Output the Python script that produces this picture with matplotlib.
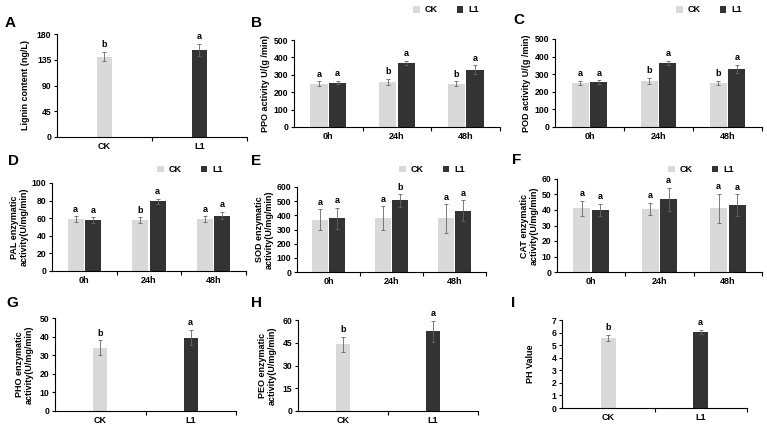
import matplotlib
matplotlib.use("Agg")
import matplotlib.pyplot as plt
import numpy as np

plt.rcParams['font.family'] = ['Liberation Sans', 'DejaVu Sans']
plt.rcParams['font.weight'] = 'bold'

W, H = 767, 426
CK_COLOR = '#d9d9d9'
L1_COLOR = '#333333'

# ---- data ----
two_cats = ['CK', 'L1']
time_cats = ['0h', '24h', '48h']

lignin = [140, 152]
lignin_err = [8, 10]
lignin_sig = ['b', 'a']

ppo_ck = [250, 260, 250]
ppo_l1 = [255, 368, 330]
ppo_ck_err = [12, 18, 12]
ppo_l1_err = [10, 12, 25]
ppo_ck_sig = ['a', 'b', 'b']
ppo_l1_sig = ['a', 'a', 'a']

pod_ck = [250, 260, 250]
pod_l1 = [255, 365, 330]
pod_ck_err = [12, 18, 12]
pod_l1_err = [10, 12, 25]
pod_ck_sig = ['a', 'b', 'b']
pod_l1_sig = ['a', 'a', 'a']

pal_ck = [59, 58, 59]
pal_l1 = [58, 79, 63]
pal_ck_err = [3, 3, 3]
pal_l1_err = [3, 3, 4]
pal_ck_sig = ['a', 'b', 'a']
pal_l1_sig = ['a', 'a', 'a']

sod_ck = [368, 380, 378]
sod_l1 = [378, 505, 432]
sod_ck_err = [75, 85, 100]
sod_l1_err = [75, 45, 75]
sod_ck_sig = ['a', 'a', 'a']
sod_l1_sig = ['a', 'b', 'a']

cat_ck = [41, 40.5, 41]
cat_l1 = [40, 47, 43]
cat_ck_err = [5, 4, 9.5]
cat_l1_err = [4, 7.5, 7]
cat_ck_sig = ['a', 'a', 'a']
cat_l1_sig = ['a', 'a', 'a']

pho = [34, 39.5]
pho_err = [4, 4]
pho_sig = ['b', 'a']

peo = [44, 52.5]
peo_err = [5, 7]
peo_sig = ['b', 'a']

ph = [5.55, 6.05]
ph_err = [0.25, 0.15]
ph_sig = ['b', 'a']


def ax_px(fig, left, top, right, bottom):
    return fig.add_axes([left / W, 1 - bottom / H, (right - left) / W, (bottom - top) / H])


def style(ax, n, ymax, step, ylabel, lpad):
    ax.set_xlim(-0.5, n - 0.5)
    ax.set_ylim(0, ymax)
    ax.set_yticks(np.arange(0, ymax + step / 2, step))
    ax.spines['top'].set_visible(False)
    ax.spines['right'].set_visible(False)
    ax.spines['left'].set_linewidth(0.8)
    ax.spines['bottom'].set_linewidth(0.8)
    ax.set_xticks(np.arange(n))
    ax.set_xticks(np.arange(0.5, n, 1.0), minor=True)
    ax.tick_params(axis='x', which='major', length=0, pad=3.5, labelsize=6.5)
    ax.tick_params(axis='x', which='minor', length=3, width=0.8, direction='out')
    ax.tick_params(axis='y', length=2.5, width=0.8, pad=1.5, labelsize=6.2)
    ax.set_ylabel(ylabel, fontsize=6.5, fontweight='bold', labelpad=lpad, linespacing=1.1)


def sig_text(ax, x, top, s, ymax):
    ax.text(x, top + ymax * 0.03, s, ha='center', va='bottom', fontsize=6.5, fontweight='bold')


def two_bar(fig, box, vals, errs, sigs, ymax, step, ylabel, letter, lpos, lpad=3):
    ax = ax_px(fig, *box)
    x = np.arange(len(two_cats))
    ax.bar(x, vals, width=0.16, color=[CK_COLOR, L1_COLOR], yerr=errs,
           error_kw=dict(ecolor='#666666', elinewidth=0.6, capsize=1.5, capthick=0.6))
    style(ax, len(two_cats), ymax, step, ylabel, lpad)
    ax.set_xticklabels(two_cats)
    for xi, v, e, s in zip(x, vals, errs, sigs):
        sig_text(ax, xi, v + e, s, ymax)
    fig.text(lpos[0] / W, 1 - lpos[1] / H, letter, fontsize=11, fontweight='bold', va='center')
    return ax


def group_bar(fig, box, ck, l1, ck_err, l1_err, ck_sig, l1_sig, ymax, step, ylabel,
              letter, lpos, legpos, lpad=3):
    ax = ax_px(fig, *box)
    x = np.arange(len(time_cats))
    w = 0.25
    off = 0.135
    ek = dict(ecolor='#666666', elinewidth=0.6, capsize=1.5, capthick=0.6)
    ax.bar(x - off, ck, width=w, color=CK_COLOR, yerr=ck_err, error_kw=ek, label='CK')
    ax.bar(x + off, l1, width=w, color=L1_COLOR, yerr=l1_err, error_kw=ek, label='L1')
    style(ax, len(time_cats), ymax, step, ylabel, lpad)
    ax.set_xticklabels(time_cats)
    for xi, v, e, s in zip(x - off, ck, ck_err, ck_sig):
        sig_text(ax, xi, v + e, s, ymax)
    for xi, v, e, s in zip(x + off, l1, l1_err, l1_sig):
        sig_text(ax, xi, v + e, s, ymax)
    ax.legend(loc='center', bbox_to_anchor=(legpos[0] / W, 1 - legpos[1] / H),
              bbox_transform=fig.transFigure, ncol=2, frameon=False, fontsize=6.5,
              handlelength=0.7, handleheight=0.7, handletextpad=0.5, columnspacing=2.2)
    fig.text(lpos[0] / W, 1 - lpos[1] / H, letter, fontsize=11, fontweight='bold', va='center')
    return ax


fig = plt.figure(figsize=(W / 100, H / 100), dpi=100)

two_bar(fig, (57, 34, 247, 137), lignin, lignin_err, lignin_sig, 180, 45,
        'Lignin content (ng/L)', 'A', (5, 23), lpad=5)
group_bar(fig, (294, 40, 500, 127), ppo_ck, ppo_l1, ppo_ck_err, ppo_l1_err, ppo_ck_sig, ppo_l1_sig,
          500, 100, 'PPO activity U/(g /min)', 'B', (251, 23), (446, 10))
group_bar(fig, (555, 39, 762, 127), pod_ck, pod_l1, pod_ck_err, pod_l1_err, pod_ck_sig, pod_l1_sig,
          500, 100, 'POD activity U/(g /min)', 'C', (513, 20), (709, 10))
group_bar(fig, (52, 183, 246, 271), pal_ck, pal_l1, pal_ck_err, pal_l1_err, pal_ck_sig, pal_l1_sig,
          100, 20, 'PAL enzymatic\nactivity(U/mg/min)', 'D', (8, 161), (190, 170), lpad=2)
group_bar(fig, (297, 187, 486, 272), sod_ck, sod_l1, sod_ck_err, sod_l1_err, sod_ck_sig, sod_l1_sig,
          600, 100, 'SOD enzymatic\nactivity(U/mg/min)', 'E', (251, 161), (432, 170), lpad=2)
group_bar(fig, (557, 179, 762, 272), cat_ck, cat_l1, cat_ck_err, cat_l1_err, cat_ck_sig, cat_l1_sig,
          60, 10, 'CAT enzymatic\nactivity(U/mg/min)', 'F', (512, 160), (701, 170), lpad=2)
two_bar(fig, (55, 318, 236, 411), pho, pho_err, pho_sig, 50, 10,
        'PHO enzymatic\nactivity(U/mg/min)', 'G', (6, 303), lpad=4)
two_bar(fig, (298, 320, 478, 411), peo, peo_err, peo_sig, 60, 15,
        'PEO enzymatic\nactivity(U/mg/min)', 'H', (251, 303), lpad=4)
two_bar(fig, (562, 320, 747, 408), ph, ph_err, ph_sig, 7, 1,
        'PH Value', 'I', (511, 303), lpad=12)

fig.savefig('out.png', dpi=100)
